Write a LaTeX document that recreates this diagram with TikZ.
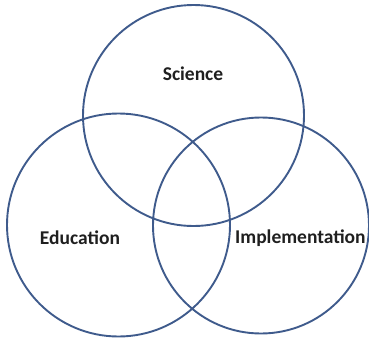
\documentclass[tikz,border=0pt]{standalone}
\usepackage{fontspec}
\setmainfont{Carlito}
\definecolor{ringblue}{HTML}{3F5B8C}
\begin{document}
\begin{tikzpicture}[x=1pt,y=-1pt,
  ring/.style={draw=ringblue,line width=1.9pt,circle,inner sep=0pt},
  lab/.style={font=\bfseries\fontsize{19.5}{22}\selectfont,text=black!88}]
\useasboundingbox (0,0) rectangle (369,340);
\node[ring,minimum size=221pt] (sci) at (193.5,115.5) {};
\node[ring,minimum size=223pt] (edu) at (118.5,225) {};
\node[ring,minimum size=216pt] (imp) at (261,225.5) {};
\node[lab] (tsci) at (193,74) {Science};
\node[lab] (tedu) at (80,238) {Education};
\node[lab,anchor=west,inner sep=0pt] (timp) at (235,238) {Implementation};
\end{tikzpicture}
\end{document}
